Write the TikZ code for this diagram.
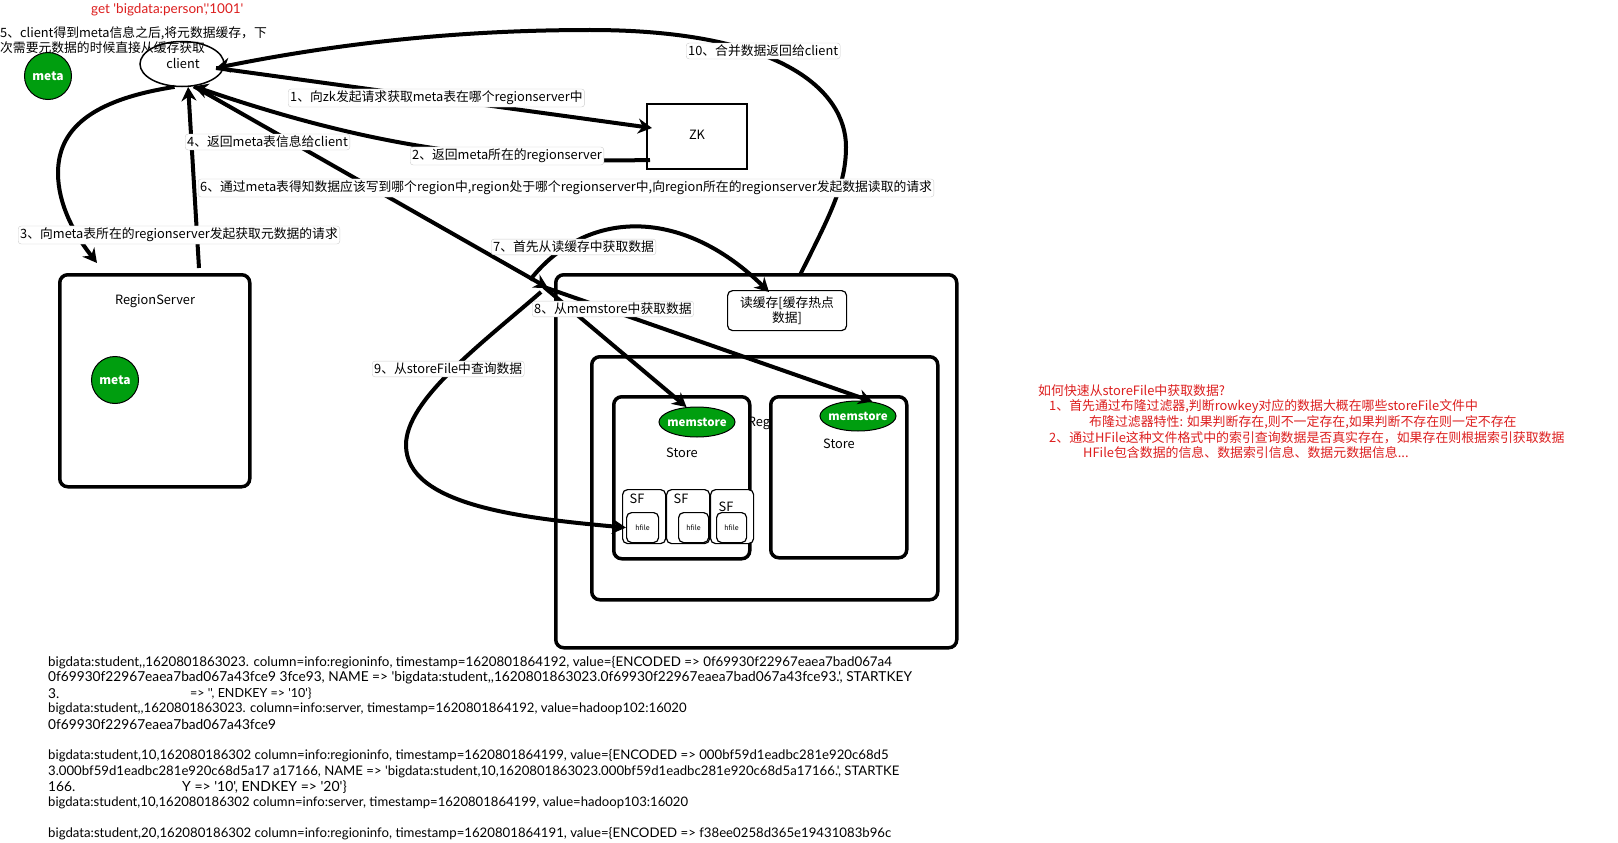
\documentclass[tikz,border=0pt]{standalone}
\usepackage{fontspec}
\setmainfont{Noto Sans CJK SC}
\newfontfamily\rawfont{Lato}
\usetikzlibrary{arrows.meta,positioning,shapes.geometric}
\definecolor{metagreen}{RGB}{0,158,15}
\definecolor{notered}{RGB}{220,30,30}
\begin{document}
\begin{tikzpicture}[
  x=1pt, y=-1pt,
  box/.style={draw, line width=3.5pt, rounded corners=8pt, inner sep=0pt, anchor=north west},
  smallbox/.style={draw, line width=1.2pt, rounded corners=5pt, inner sep=0pt, anchor=north west, fill=white},
  metanode/.style={draw, circle, fill=metagreen, text=white, font=\fontsize{12}{12}\selectfont\bfseries, line width=1pt, minimum size=47pt, inner sep=0pt},
  memnode/.style={draw, ellipse, fill=metagreen, text=white, font=\fontsize{11.5}{12}\selectfont\bfseries, line width=1pt, minimum width=76pt, minimum height=30pt, inner sep=0pt},
  tag/.style={draw=black!20, fill=white, rounded corners=3pt, inner sep=2pt, font=\fontsize{12.8}{14}\selectfont, anchor=west},
  plain/.style={inner sep=0pt, font=\fontsize{12.8}{15}\selectfont},
  rawline/.style={inner sep=0pt, anchor=west, font=\rawfont\fontsize{#1}{14}\selectfont},
  rawline/.default=13.7,
  noteline/.style={inner sep=0pt, anchor=west, text=notered, font=\fontsize{12.9}{14}\selectfont},
  arr/.style={-{Stealth[length=14pt,width=15pt]}, line width=4pt}
]
  \useasboundingbox (0,0) rectangle (1618,843);
  % top left
  \node[noteline, font=\rawfont\fontsize{13.5}{14}\selectfont] (gettext) at (91,10) {get 'bigdata:person','1001'};
  \node[draw, ellipse, line width=1.5pt, minimum width=84pt, minimum height=45pt, inner sep=0pt] (client) at (182,64) {};
  \node[metanode] (meta1) at (48,76) {meta};
  \node[plain, anchor=north west, align=left, font=\fontsize{12.8}{15.5}\selectfont] (cachenote) at (0,26) {5、client得到meta信息之后,将元数据缓存，下\\次需要元数据的时候直接从缓存获取};
  \node[plain] (clientname) at (183,63) {client};
  % boxes
  \node[draw, line width=1.5pt, minimum width=100pt, minimum height=65pt, inner sep=0pt, anchor=north west] (zk) at (646,103) {};
  \node[plain] (zkname) at (697,135) {ZK};
  \node[box, minimum width=190pt, minimum height=212pt] (rs1) at (58,273) {};
  \node[plain] (rs1name) at (155,301) {RegionServer};
  \node[metanode] (meta2) at (115,380) {meta};
  \node[box, minimum width=401pt, minimum height=373pt] (rs2) at (554,273) {};
  \node[smallbox, minimum width=119pt, minimum height=40pt] (readcache) at (727,290) {};
  \node[plain, align=center] (cachename) at (787,311) {读缓存[缓存热点\\数据]};
  \node[box, minimum width=346pt, minimum height=243pt] (region) at (590,355) {};
  \node[plain] (regname) at (759,423) {Reg};
  \node[box, fill=white, minimum width=136pt, minimum height=162pt] (store1) at (612,395) {};
  \node[box, fill=white, minimum width=136pt, minimum height=161pt] (store2) at (769,395) {};
  \node[memnode] (mem1) at (697,422) {\makebox[0pt]{memstore}};
  \node[memnode] (mem2) at (858,416) {\makebox[0pt]{memstore}};
  \node[plain] (store1name) at (682,453) {Store};
  \node[plain] (store2name) at (839,444) {Store};
  % store files
  \foreach \sx/\nm in {622/a, 666/b, 710/c}{
    \node[smallbox, minimum width=43pt, minimum height=54pt] (sf\nm) at (\sx,489) {};
  }
  \node[plain] (sfanote) at (637,499) {SF};
  \node[plain] (sfbnote) at (681,499) {SF};
  \node[plain] (sfcnote) at (726,507) {SF};
  \node[smallbox, minimum width=32pt, minimum height=30pt, font=\fontsize{7}{7}\selectfont] (hfa) at (626,512) {hfile};
  \node[smallbox, minimum width=30pt, minimum height=30pt, font=\fontsize{7}{7}\selectfont] (hfb) at (678,512) {hfile};
  \node[smallbox, minimum width=30pt, minimum height=30pt, font=\fontsize{7}{7}\selectfont] (hfc) at (716,512) {hfile};
  % arrow ends
  \coordinate (hubin) at (548,288);
  \coordinate (hubup) at (530,280);
  \coordinate (hubdown) at (544,287);
  \coordinate (hubback) at (541,292);
  \coordinate (zkin) at (652,128);
  \coordinate (zkout) at (650,160);
  \coordinate (rsin) at (97,263);
  \coordinate (rsout) at (199,268);
  \coordinate (rstwoout) at (800,275);
  \coordinate (cachein) at (769,292);
  \coordinate (clientin) at (216,68);
  % connectors
  \draw[arr] (clientin) -- (zkin);
  \draw[arr] (zkout) .. controls (500,163) and (380,150) .. (client.-62);
  \draw[arr] (client.-108) .. controls (90,100) and (58,130) .. (58,173) .. controls (58,205) and (75,235) .. (rsin);
  \draw[arr] (rsout) -- (client.-75);
  \draw[arr] (client.-62) -- (hubin);
  \draw[arr] (rstwoout) .. controls (830,215) and (846,185) .. (846,147) .. controls (846,90) and (780,30) .. (590,30) .. controls (450,30) and (330,45) .. (clientin);
  \draw[arr] (hubup) .. controls (585,210) and (680,205) .. (cachein);
  \draw[arr] (hubdown) -- (mem1.125);
  \draw[arr] (hubdown) -- (mem2.45);
  \draw[arr] (hubback) .. controls (480,345) and (406,400) .. (406,445) .. controls (406,505) and (520,518) .. (hfa.west);
  % labels
  \node[tag] (lab1) at (288,98) {1、向zk发起请求获取meta表在哪个regionserver中};
  \node[tag] (lab2) at (410,156) {2、返回meta所在的regionserver};
  \node[tag] (lab3) at (18,235) {3、向meta表所在的regionserver发起获取元数据的请求};
  \node[tag] (lab4) at (185,142) {4、返回meta表信息给client};
  \node[tag] (lab6) at (198,188) {6、通过meta表得知数据应该写到哪个region中,region处于哪个regionserver中,向region所在的regionserver发起数据读取的请求};
  \node[tag] (lab7) at (491,247) {7、首先从读缓存中获取数据};
  \node[tag] (lab8) at (532,309) {8、从memstore中获取数据};
  \node[tag] (lab9) at (372,369) {9、从storeFile中查询数据};
  \node[tag] (lab10) at (686,51) {10、合并数据返回给client};
  % red notes
  \node[noteline] (n0) at (1038,391) {如何快速从storeFile中获取数据?};
  \node[noteline] (n1) at (1049,407) {1、首先通过布隆过滤器,判断rowkey对应的数据大概在哪些storeFile文件中};
  \node[noteline] (n2) at (1089,422) {布隆过滤器特性: 如果判断存在,则不一定存在,如果判断不存在则一定不存在};
  \node[noteline] (n3) at (1049,438) {2、通过HFile这种文件格式中的索引查询数据是否真实存在，如果存在则根据索引获取数据};
  \node[noteline] (n4) at (1083,453) {HFile包含数据的信息、数据索引信息、数据元数据信息...};
  % raw scan text
  \node[rawline=13.35] (r1) at (48,663) {bigdata:student,,1620801863023. column=info:regioninfo, timestamp=1620801864192, value=\{ENCODED => 0f69930f22967eaea7bad067a4};
  \node[rawline] (r2) at (48,678) {0f69930f22967eaea7bad067a43fce9 3fce93, NAME => 'bigdata:student,,1620801863023.0f69930f22967eaea7bad067a43fce93.', STARTKEY};
  \node[rawline] (r3) at (48,694) {3.};
  \node[rawline=12.5] (r3b) at (190,694) {=> '', ENDKEY => '10'\}};
  \node[rawline=13.13] (r4) at (48,709) {bigdata:student,,1620801863023. column=info:server, timestamp=1620801864192, value=hadoop102:16020};
  \node[rawline] (r5) at (48,725) {0f69930f22967eaea7bad067a43fce9};
  \node[rawline=13.2] (r6) at (48,756) {bigdata:student,10,162080186302 column=info:regioninfo, timestamp=1620801864199, value=\{ENCODED => 000bf59d1eadbc281e920c68d5};
  \node[rawline=13.17] (r7) at (48,772) {3.000bf59d1eadbc281e920c68d5a17 a17166, NAME => 'bigdata:student,10,1620801863023.000bf59d1eadbc281e920c68d5a17166.', STARTKE};
  \node[rawline] (r8) at (48,787) {166.};
  \node[rawline=14] (r8b) at (182,787) {Y => '10', ENDKEY => '20'\}};
  \node[rawline=13.09] (r9) at (48,803) {bigdata:student,10,162080186302 column=info:server, timestamp=1620801864199, value=hadoop103:16020};
  \node[rawline=13.2] (r10) at (48,834) {bigdata:student,20,162080186302 column=info:regioninfo, timestamp=1620801864191, value=\{ENCODED => f38ee0258d365e19431083b96c};
\end{tikzpicture}
\end{document}
